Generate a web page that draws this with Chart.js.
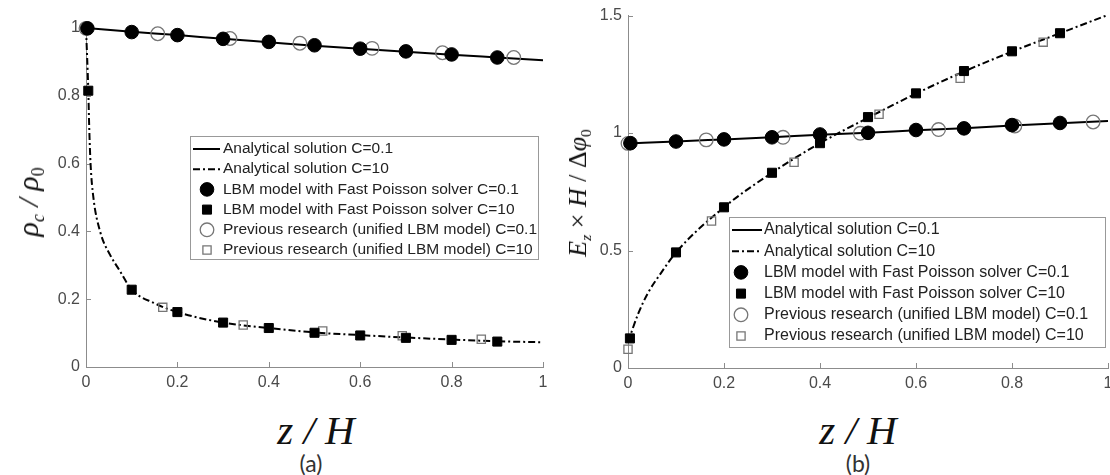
<!DOCTYPE html>
<html>
<head>
<meta charset="utf-8">
<script src="https://cdn.jsdelivr.net/npm/chart.js@4.4.1/dist/chart.umd.min.js"></script>
<style>
  body { margin: 0; width: 1110px; height: 475px; overflow: hidden; background: #fff; position: relative; }
  canvas { position: absolute; top: 0; }
  .xtitle { position: absolute; top: 410px; width: 200px; margin-left: -100px; text-align: center;
            font: italic 41px/41px "Liberation Serif", "Times New Roman", serif; color: #111; white-space: nowrap; }
  .ytitle { position: absolute; white-space: nowrap; transform: translate(-50%, -50%) rotate(-90deg);
            font-family: "Liberation Serif", "Times New Roman", serif; font-style: italic; color: #111; line-height: 1; }
  .ytitle sub { font-size: 60%; vertical-align: -0.35em; line-height: 0; }
  .ytitle .up { font-style: normal; }
  .tag { position: absolute; top: 450px; width: 60px; margin-left: -30px; text-align: center;
         font: 23px/26px Lato, "Open Sans", sans-serif; color: #333; }
</style>
</head>
<body>
<canvas id="chartA" width="560" height="390" style="left:0"></canvas>
<canvas id="chartB" width="560" height="390" style="left:560px"></canvas>

<div class="ytitle" style="left:28px; top:202px; font-size:30px">ρ<sub>c</sub> / ρ<sub class="up">0</sub></div>
<div class="ytitle" style="left:578px; top:193px; font-size:26px">E<sub>z</sub> <span class="up">×</span> H <span class="up">/</span> <span class="up">Δ</span>φ<sub class="up">0</sub></div>
<div class="xtitle" style="left:316px">z / H</div>
<div class="xtitle" style="left:858px">z / H</div>
<div class="tag" style="left:311px">(a)</div>
<div class="tag" style="left:858px">(b)</div>

<script>
// (a) density ratio rho_c / rho_0 against z / H
const rhoLineLowX = [0, 0.1, 0.2, 0.3, 0.4, 0.5, 0.6, 0.7, 0.8, 0.9, 1];
const rhoLineLowY = [1.0, 0.989, 0.979, 0.968, 0.958, 0.948, 0.939, 0.930, 0.921, 0.913, 0.905];
const rhoLineHighX = [0, 0.005, 0.007, 0.010, 0.016, 0.031, 0.053, 0.073, 0.1, 0.15, 0.2, 0.3, 0.4, 0.5, 0.6, 0.7, 0.8, 0.9, 1];
const rhoLineHighY = [1.0, 0.817, 0.709, 0.599, 0.502, 0.399, 0.330, 0.286, 0.228, 0.188, 0.162, 0.131, 0.115, 0.102, 0.094, 0.087, 0.081, 0.076, 0.073];
const rhoFpsLowX = [0.003, 0.1, 0.2, 0.3, 0.4, 0.5, 0.6, 0.7, 0.8, 0.9];
const rhoFpsLowY = [0.999, 0.988, 0.979, 0.968, 0.959, 0.949, 0.939, 0.931, 0.922, 0.913];
const rhoFpsHighX = [0.005, 0.1, 0.2, 0.3, 0.4, 0.5, 0.6, 0.7, 0.8, 0.9];
const rhoFpsHighY = [0.815, 0.228, 0.162, 0.131, 0.115, 0.101, 0.093, 0.086, 0.080, 0.075];
const rhoPrevLowX = [0, 0.157, 0.315, 0.468, 0.626, 0.78, 0.936];
const rhoPrevLowY = [0.999, 0.983, 0.969, 0.955, 0.940, 0.927, 0.913];
const rhoPrevHighX = [0.168, 0.344, 0.518, 0.692, 0.865];
const rhoPrevHighY = [0.176, 0.124, 0.106, 0.092, 0.082];

// (b) field E_z * H / dphi_0 against z / H
const efLineLowX = [0, 0.1, 0.2, 0.3, 0.4, 0.5, 0.6, 0.7, 0.8, 0.9, 1];
const efLineLowY = [0.956, 0.964, 0.973, 0.982, 0.993, 1.001, 1.012, 1.021, 1.032, 1.042, 1.051];
const efLineHighX = [0, 0.021, 0.042, 0.069, 0.1, 0.2, 0.3, 0.4, 0.5, 0.6, 0.7, 0.8, 0.9, 1];
const efLineHighY = [0.11, 0.230, 0.321, 0.405, 0.492, 0.684, 0.831, 0.957, 1.065, 1.168, 1.262, 1.347, 1.425, 1.503];
const efFpsLowX = [0.005, 0.1, 0.2, 0.3, 0.4, 0.5, 0.6, 0.7, 0.8, 0.9];
const efFpsLowY = [0.957, 0.964, 0.973, 0.982, 0.994, 1.001, 1.013, 1.020, 1.034, 1.043];
const efFpsHighX = [0.004, 0.1, 0.2, 0.3, 0.4, 0.5, 0.6, 0.7, 0.8, 0.9];
const efFpsHighY = [0.126, 0.492, 0.684, 0.831, 0.957, 1.068, 1.169, 1.264, 1.348, 1.425];
const efPrevLowX = [0, 0.163, 0.323, 0.484, 0.647, 0.806, 0.969];
const efPrevLowY = [0.956, 0.971, 0.982, 0.999, 1.015, 1.030, 1.047];
const efPrevHighX = [0, 0.174, 0.346, 0.523, 0.692, 0.865];
const efPrevHighY = [0.080, 0.626, 0.876, 1.080, 1.233, 1.387];

const seriesLabels = [
  "Analytical solution C=0.1",
  "Analytical solution C=10",
  "LBM model with Fast Poisson solver C=0.1",
  "LBM model with Fast Poisson solver C=10",
  "Previous research (unified LBM model) C=0.1",
  "Previous research (unified LBM model) C=10",
];

const TICK_GREY = "#4a4a4a";
const AXIS_GREY = "#8c8c8c";
const OPEN_GREY = "#767676";
const DASH_DOT = [7, 3, 2, 3];

function pts(xs, ys) {
  return xs.map((x, i) => ({ x: x, y: ys[i] }));
}

function lineSet(label, xs, ys, dash) {
  return {
    label: label, data: pts(xs, ys), showLine: true,
    borderColor: "#000", borderWidth: 2, borderDash: dash,
    pointRadius: 0, cubicInterpolationMode: "monotone", clip: false, order: 3,
  };
}

function markerSet(label, xs, ys, style, filled, r) {
  return {
    label: label, data: pts(xs, ys), showLine: false,
    pointStyle: style, pointRadius: r, pointHoverRadius: r,
    pointBackgroundColor: filled ? "#000" : "rgba(0,0,0,0)",
    pointBorderColor: filled ? "#000" : OPEN_GREY,
    pointBorderWidth: filled ? 1 : 1.3,
    clip: false, order: filled ? 1 : 2,
  };
}

// MATLAB style tick marks pointing into the plot
const inwardTicks = {
  id: "inwardTicks",
  beforeDatasetsDraw(chart) {
    const { ctx, chartArea, scales } = chart;
    ctx.save();
    ctx.strokeStyle = AXIS_GREY;
    ctx.lineWidth = 1;
    ctx.beginPath();
    scales.x.ticks.forEach(t => {
      const px = Math.round(scales.x.getPixelForValue(t.value)) + 0.5;
      ctx.moveTo(px, chartArea.bottom);
      ctx.lineTo(px, chartArea.bottom - 5);
    });
    scales.y.ticks.forEach(t => {
      const py = Math.round(scales.y.getPixelForValue(t.value)) + 0.5;
      ctx.moveTo(chartArea.left, py);
      ctx.lineTo(chartArea.left + 5, py);
    });
    ctx.stroke();
    ctx.restore();
  },
};

// boxed legend sitting inside the plot area
const boxLegend = {
  id: "boxLegend",
  afterDraw(chart, args, o) {
    const ctx = chart.ctx;
    ctx.save();
    ctx.fillStyle = "#fff";
    ctx.fillRect(o.x, o.y, o.w, o.h);
    ctx.strokeStyle = "#999";
    ctx.lineWidth = 1;
    ctx.strokeRect(o.x + 0.5, o.y + 0.5, o.w, o.h);
    ctx.font = o.font;
    ctx.textBaseline = "middle";
    chart.data.datasets.forEach((ds, i) => {
      const y = o.y + o.first + i * o.step;
      if (ds.showLine) {
        ctx.save();
        ctx.strokeStyle = ds.borderColor;
        ctx.lineWidth = ds.borderWidth;
        ctx.setLineDash(ds.borderDash || []);
        ctx.beginPath();
        ctx.moveTo(o.x + o.lineFrom, y);
        ctx.lineTo(o.x + o.lineTo, y);
        ctx.stroke();
        ctx.restore();
      } else {
        const cx = o.x + o.markX, r = ds.pointRadius;
        ctx.save();
        ctx.fillStyle = ds.pointBackgroundColor;
        ctx.strokeStyle = ds.pointBorderColor;
        ctx.lineWidth = ds.pointBorderWidth;
        ctx.beginPath();
        if (ds.pointStyle === "rect") {
          const h = r * Math.SQRT1_2;
          ctx.rect(cx - h, y - h, 2 * h, 2 * h);
        } else {
          ctx.arc(cx, y, r, 0, Math.PI * 2);
        }
        ctx.fill();
        ctx.stroke();
        ctx.restore();
      }
      ctx.fillStyle = "#222";
      ctx.fillText(ds.label, o.x + o.textX, y);
    });
    ctx.restore();
  },
};

// tick text like MATLAB: 1 rather than 1.0
function plainTick(v) {
  return String(Number(v.toFixed(2)));
}

function makeChart(id, sets, yMax, yStep, box, pad, yWidth, xHeight, fontSize) {
  const tickFont = { family: "'Liberation Sans', Arial, sans-serif", size: fontSize };
  return new Chart(document.getElementById(id).getContext("2d"), {
    type: "scatter",
    data: { datasets: sets },
    options: {
      responsive: false,
      animation: false,
      events: [],
      layout: { padding: pad },
      scales: {
        x: {
          type: "linear", min: 0, max: 1,
          ticks: { stepSize: 0.2, padding: 6, color: TICK_GREY, font: tickFont, maxRotation: 0, callback: plainTick },
          grid: { display: false, drawTicks: false },
          border: { display: true, color: AXIS_GREY, width: 1 },
          afterFit(s) { s.height = xHeight; },
        },
        y: {
          type: "linear", min: 0, max: yMax,
          ticks: { stepSize: yStep, padding: 6, color: TICK_GREY, font: tickFont, callback: plainTick },
          grid: { display: false, drawTicks: false },
          border: { display: true, color: AXIS_GREY, width: 1 },
          afterFit(s) { s.width = yWidth; },
        },
      },
      plugins: {
        legend: { display: false },
        tooltip: { enabled: false },
        boxLegend: box,
      },
    },
    plugins: [inwardTicks, boxLegend],
  });
}

const setsA = [
  lineSet(seriesLabels[0], rhoLineLowX, rhoLineLowY, []),
  lineSet(seriesLabels[1], rhoLineHighX, rhoLineHighY, DASH_DOT),
  markerSet(seriesLabels[2], rhoFpsLowX, rhoFpsLowY, "circle", true, 6.8),
  markerSet(seriesLabels[3], rhoFpsHighX, rhoFpsHighY, "rect", true, 6.4),
  markerSet(seriesLabels[4], rhoPrevLowX, rhoPrevLowY, "circle", false, 6.8),
  markerSet(seriesLabels[5], rhoPrevHighX, rhoPrevHighY, "rect", false, 5.8),
];

const setsB = [
  lineSet(seriesLabels[0], efLineLowX, efLineLowY, []),
  lineSet(seriesLabels[1], efLineHighX, efLineHighY, DASH_DOT),
  markerSet(seriesLabels[2], efFpsLowX, efFpsLowY, "circle", true, 6.8),
  markerSet(seriesLabels[3], efFpsHighX, efFpsHighY, "rect", true, 6.4),
  markerSet(seriesLabels[4], efPrevLowX, efPrevLowY, "circle", false, 6.8),
  markerSet(seriesLabels[5], efPrevHighX, efPrevHighY, "rect", false, 5.8),
];

makeChart("chartA", setsA, 1, 0.2,
  { x: 190, y: 136, w: 348, h: 123, first: 13, step: 20.2, lineFrom: 3, lineTo: 30, markX: 17, textX: 33,
    font: "15.5px 'Liberation Sans', Arial, sans-serif" },
  { top: 28, right: 17, left: 0, bottom: 0 }, 86, 23, 16);

makeChart("chartB", setsB, 1.5, 0.5,
  { x: 169, y: 217, w: 376, h: 130, first: 13, step: 21.2, lineFrom: 3, lineTo: 33, markX: 12, textX: 35,
    font: "16px 'Liberation Sans', Arial, sans-serif" },
  { top: 10, right: 12, left: 0, bottom: 0 }, 68, 22, 16);
</script>
</body>
</html>
